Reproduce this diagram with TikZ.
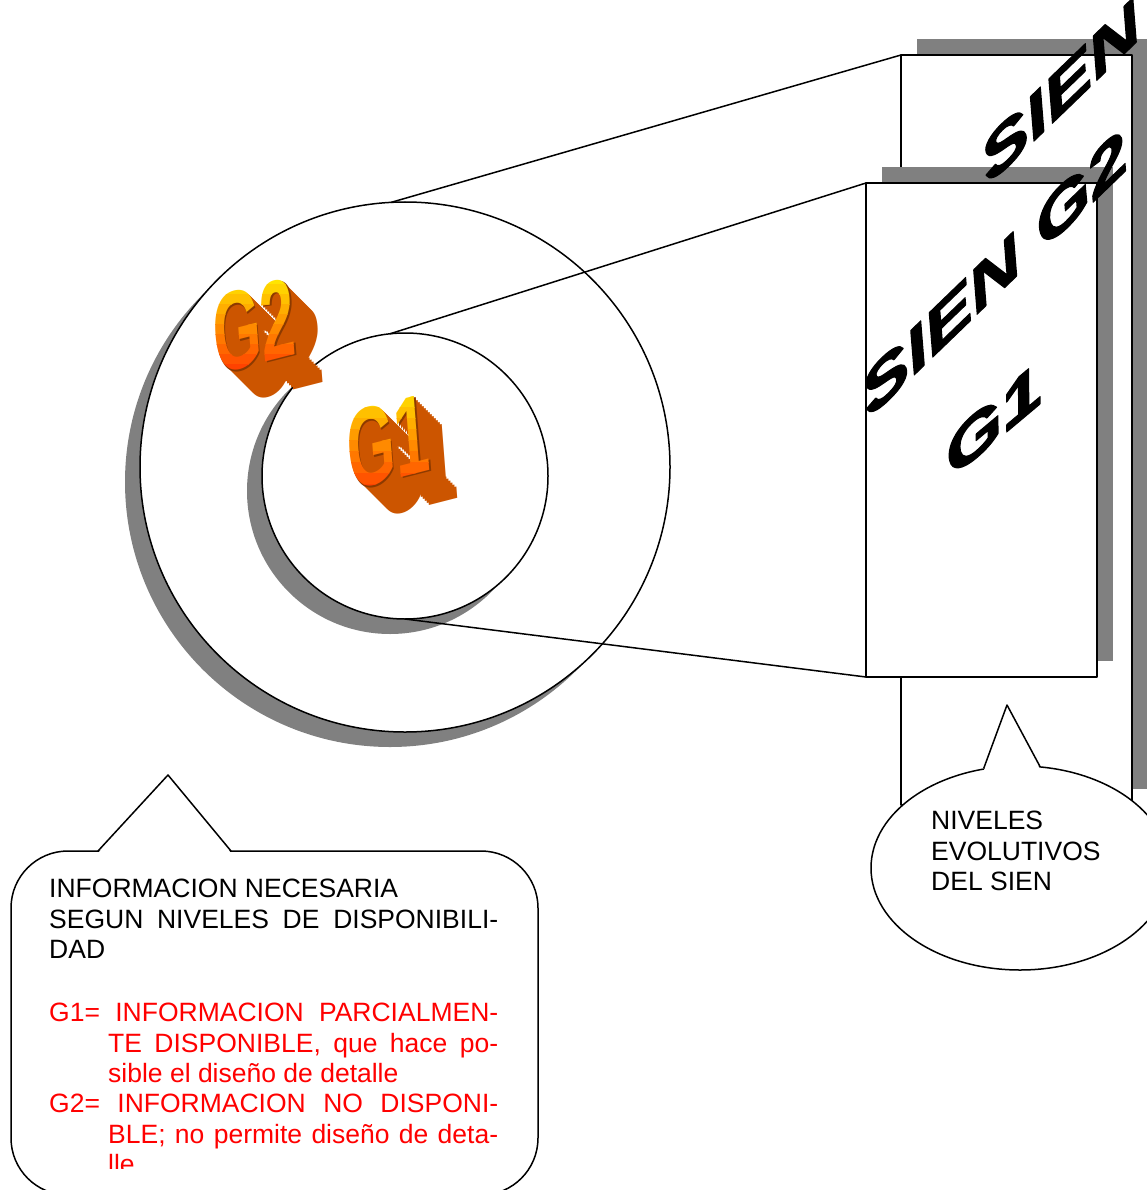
\documentclass[tikz,border=0pt]{standalone}
\usepackage{fontspec}
\setmainfont{Liberation Sans}
\newfontfamily\wordartfont[BoldItalicFeatures={FakeBold=2}]{Liberation Sans}
\usetikzlibrary{shapes.geometric}

\definecolor{shadowgray}{RGB}{128,128,128}
\definecolor{facetop}{RGB}{255,228,0}
\definecolor{facebot}{RGB}{255,64,0}
\definecolor{extrude}{RGB}{204,85,0}
\definecolor{extrudedark}{RGB}{140,58,0}

\tikzset{
  ring/.style={circle,draw,line width=1.5pt,fill=white,inner sep=0pt,outer sep=0pt},
  panel/.style={rectangle,draw,line width=1.5pt,fill=white,inner sep=0pt,outer sep=0pt},
  gthree/.style={font=\fontsize{112}{112}\selectfont\bfseries,inner sep=0pt,xscale=0.55,rotate=8},
  slanted/.style={font=\fontsize{50}{50}\wordartfont\bfseries\itshape,inner sep=0pt,rotate=#1,xscale=1.85,xslant=0.25},
  slanted/.default=44,
  bubbletext/.style={font=\fontsize{26.5}{30.4}\selectfont,inner sep=0pt,align=left,anchor=north west}
}

\begin{document}
\begin{tikzpicture}[x=1pt,y=-1pt,line join=round]
  \useasboundingbox (0,0) rectangle (1147,1190);

  \fill[shadowgray] (390,482) circle (265pt);
  \node[ring,minimum size=530] (bigring) at (405,467) {};
  \fill[shadowgray] (390,491) circle (143pt);
  \node[ring,minimum size=286] (smallring) at (405,476) {};

  \foreach \k in {14,...,1}
    \node[gthree,text=extrude] (gtwoext\k) at ({254+2*\k},{326+2*\k}) {G2};
  \node[gthree,text=extrudedark] (gtwoedge) at (255.5,327.5) {G2};
  \foreach \i in {0,...,9} {
    \pgfmathtruncatemacro\mixpct{\i*11}
    \begin{scope}
      \clip (190,{274+10*\i}) rectangle (340,{284+10*\i});
      \node[gthree,text=facebot!\mixpct!facetop] (gtwoface\i) at (254,326) {G2};
    \end{scope}
  }

  \foreach \k in {14,...,1}
    \node[gthree,text=extrude] (goneext\k) at ({388+2*\k},{442+2*\k}) {G1};
  \node[gthree,text=extrudedark] (goneedge) at (389.5,443.5) {G1};
  \foreach \i in {0,...,9} {
    \pgfmathtruncatemacro\mixpct{\i*11}
    \begin{scope}
      \clip (320,{385+11*\i}) rectangle (470,{396+11*\i});
      \node[gthree,text=facebot!\mixpct!facetop] (goneface\i) at (388,442) {G1};
    \end{scope}
  }

  \fill[shadowgray] (917,39) rectangle (1148,789);
  \node[panel,minimum width=231,minimum height=750] (backpanel) at (1016.5,430) {};
  \fill[shadowgray] (882,167) rectangle (1113,661);
  \node[panel,minimum width=231,minimum height=494] (frontpanel) at (981.5,430) {};

  \draw[line width=1.5pt] (bigring.93.7) -- (backpanel.north west);
  \draw[line width=1.5pt] (smallring.96.6) -- (frontpanel.north west);
  \draw[line width=1.5pt] (smallring.south) -- (frontpanel.south west);

  \node[slanted] (sientop) at (1060,92) {SIEN};
  \node[slanted] (sienmid) at (994,274) {SIEN G2};
  \node[slanted=40] (gonelabel) at (993,421) {G1};

  \node[ellipse,draw,line width=1.5pt,fill=white,inner sep=0pt,minimum width=298,minimum height=204] (evolbubble) at (1020,868) {};
  \coordinate (evoltip) at (1007,705);
  \fill[white] ([yshift=-2.5pt]evolbubble.110) -- (evoltip) -- ([yshift=-2.5pt]evolbubble.79.5) -- cycle;
  \draw[line width=1.5pt] (evolbubble.110) -- (evoltip) -- (evolbubble.79.5);
  \node[bubbletext] (evoltext) at (931,811) {NIVELES\\EVOLUTIVOS\\DEL SIEN};

  \node[panel,rounded corners=57,minimum width=527,minimum height=344] (infobubble) at (274.5,1023) {};
  \coordinate (infotip) at (168,775);
  \fill[white] (98,853) -- (infotip) -- (231,853) -- cycle;
  \draw[line width=1.5pt] (98,851) -- (infotip) -- (231,851);
  \node[bubbletext] (infohead) at (49,879) {INFORMACION NECESARIA\\
    \makebox[449pt][s]{SEGUN NIVELES DE DISPONIBILI-}\\DAD};
  \begin{scope}
    \clip (0,990) rectangle (1147,1168);
    \node[bubbletext,text=red] (infolegend) at (49,1003) {%
      \makebox[449pt][s]{G1= INFORMACION PARCIALMEN-}\\
      \hspace*{59pt}\makebox[390pt][s]{TE DISPONIBLE, que hace po-}\\
      \hspace*{59pt}sible el diseño de detalle\\
      \makebox[449pt][s]{G2= INFORMACION NO DISPONI-}\\
      \hspace*{59pt}\makebox[390pt][s]{BLE; no permite diseño de deta-}\\
      \hspace*{59pt}lle};
  \end{scope}
\end{tikzpicture}
\end{document}
